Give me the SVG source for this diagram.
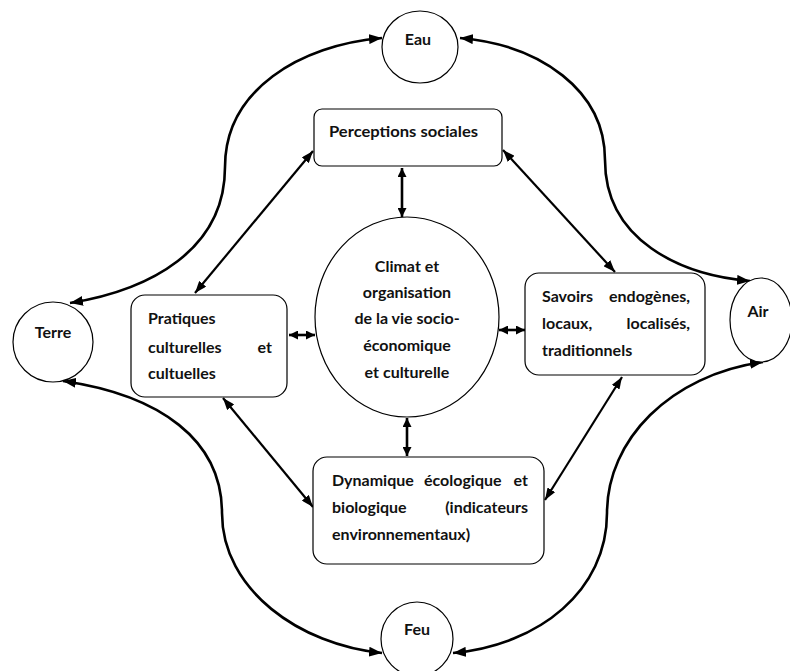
<svg xmlns="http://www.w3.org/2000/svg" width="790" height="671" viewBox="0 0 790 671">
<style>
.shape{fill:#fff;stroke:#000;stroke-width:1.2}
.t{font-family:Lato,"Open Sans","Liberation Sans",sans-serif;font-weight:bold;font-size:16px;fill:#111}
.c{text-anchor:middle}
.e{text-anchor:end}
.curve{fill:none;stroke:#000;stroke-width:2.6;marker-start:url(#big);marker-end:url(#big)}
.diag{fill:none;stroke:#000;stroke-width:2.2;marker-start:url(#mid);marker-end:url(#mid)}
.short{fill:none;stroke:#000;stroke-width:2.6;marker-start:url(#small);marker-end:url(#small)}
</style>
<defs>
<marker id="big" viewBox="0 0 13 10" refX="13" refY="5" markerWidth="13" markerHeight="10" markerUnits="userSpaceOnUse" orient="auto-start-reverse"><path d="M0,0 L13,5 L0,10 z" fill="#000"/></marker>
<marker id="mid" viewBox="0 0 12 9" refX="12" refY="4.5" markerWidth="12" markerHeight="9" markerUnits="userSpaceOnUse" orient="auto-start-reverse"><path d="M0,0 L12,4.5 L0,9 z" fill="#000"/></marker>
<marker id="small" viewBox="0 0 9 9" refX="9" refY="4.5" markerWidth="9" markerHeight="9" markerUnits="userSpaceOnUse" orient="auto-start-reverse"><path d="M0,0 L9,4.5 L0,9 z" fill="#000"/></marker>
</defs>
<rect width="790" height="671" fill="#fff"/>
<g id="connectors">
<path class="curve" d="M382,38 C300,45 225,90 225,167 C225,250 150,290 70,303"/>
<path class="curve" d="M460,38 C540,45 605,90 605,160 C605,240 680,275 750,281"/>
<path class="curve" d="M63,381 C160,395 222,440 222,513 C222,590 300,645 382,653"/>
<path class="curve" d="M763,362 C670,375 607,440 607,513 C607,590 540,645 453,653"/>
<path class="diag" d="M313,151 L195,293"/>
<path class="diag" d="M503,150 L615,272"/>
<path class="diag" d="M223,398 L313,507"/>
<path class="diag" d="M622,377 L545,500"/>
<path class="short" d="M402,168 L402,217"/>
<path class="short" d="M407,418 L407,456"/>
<path class="short" d="M289,335 L315,335"/>
<path class="short" d="M499,330 L525,330"/>
</g>
<g id="eau"><ellipse class="shape" cx="420" cy="47" rx="38" ry="36"/><text class="t c" x="418" y="45">Eau</text></g>
<g id="terre"><ellipse class="shape" cx="53" cy="342" rx="40" ry="40"/><text class="t c" x="53" y="338">Terre</text></g>
<g id="air"><ellipse class="shape" cx="761" cy="320" rx="31" ry="42"/><text class="t c" x="758" y="317">Air</text></g>
<g id="feu"><ellipse class="shape" cx="417" cy="639" rx="36" ry="37"/><text class="t c" x="417" y="635">Feu</text></g>
<g id="climat"><ellipse class="shape" cx="407" cy="317" rx="92" ry="100"/>
<text class="t c" x="407" y="272">Climat et</text>
<text class="t c" x="407" y="298">organisation</text>
<text class="t c" x="407" y="324">de la vie socio-</text>
<text class="t c" x="407" y="351">économique</text>
<text class="t c" x="407" y="378">et culturelle</text>
</g>
<g id="perceptions"><rect class="shape" x="314" y="109" width="188" height="57" rx="8"/><text class="t" x="329" y="137" textLength="149" lengthAdjust="spacingAndGlyphs">Perceptions sociales</text></g>
<g id="pratiques"><rect class="shape" x="131" y="295" width="156" height="102" rx="14"/>
<text class="t" x="148" y="324">Pratiques</text>
<text class="t" x="148" y="353">culturelles</text><text class="t e" x="272" y="353">et</text>
<text class="t" x="148" y="379">cultuelles</text>
</g>
<g id="savoirs"><rect class="shape" x="525" y="273" width="180" height="102" rx="14"/>
<text class="t" x="542" y="302">Savoirs</text><text class="t e" x="690" y="302">endogènes,</text>
<text class="t" x="542" y="329">locaux,</text><text class="t e" x="690" y="329">localisés,</text>
<text class="t" x="542" y="356">traditionnels</text>
</g>
<g id="dynamique"><rect class="shape" x="313" y="457" width="231" height="107" rx="14"/>
<text class="t" x="332" y="486">Dynamique</text><text class="t" x="424" y="486">écologique</text><text class="t e" x="528" y="486">et</text>
<text class="t" x="332" y="513">biologique</text><text class="t e" x="528" y="513">(indicateurs</text>
<text class="t" x="332" y="540">environnementaux)</text>
</g>
</svg>
